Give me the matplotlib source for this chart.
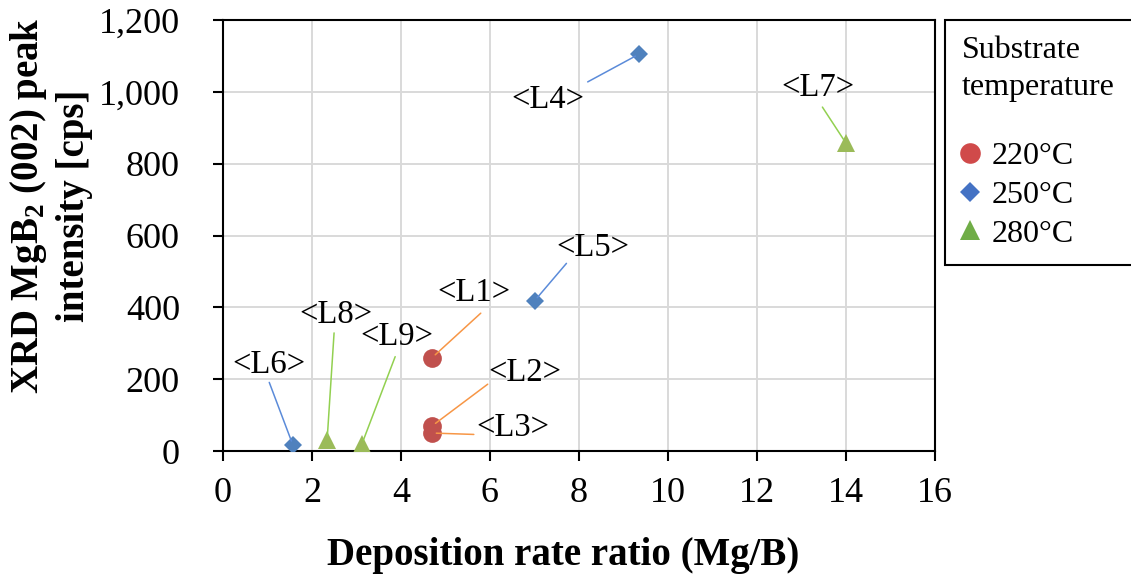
import matplotlib
matplotlib.use('Agg')
import matplotlib.pyplot as plt
from matplotlib.lines import Line2D
from matplotlib.patches import Rectangle
from matplotlib.ticker import FuncFormatter

plt.rcParams['font.family'] = ['Liberation Serif', 'DejaVu Serif']
plt.rcParams['mathtext.fontset'] = 'custom'
plt.rcParams['mathtext.rm'] = 'Liberation Serif'
plt.rcParams['mathtext.bf'] = 'Liberation Serif:bold'

# ===== data: deposition rate ratio (Mg/B) vs XRD MgB2 (002) peak intensity [cps] =====
temps = ['220°C', '250°C', '280°C']

labels_220 = ['L1', 'L2', 'L3']
ratio_220 = [4.7, 4.7, 4.7]
peak_220 = [260, 70, 50]

labels_250 = ['L4', 'L5', 'L6']
ratio_250 = [9.35, 7.0, 1.57]
peak_250 = [1105, 418, 17]

labels_280 = ['L7', 'L8', 'L9']
ratio_280 = [14.0, 2.34, 3.12]
peak_280 = [857, 31, 19]

# label placement: (text offset, leader start offset) in points from the point
label_pos = {
    'L1': ((30, 47), (35, 32)),
    'L2': ((67, 38), (40, 30)),
    'L3': ((58, 4), (30, -1)),
    'L4': ((-66, -33), (-37, -20)),
    'L5': ((42, 38), (23, 27)),
    'L6': ((-17, 58), (-17, 45)),
    'L7': ((-20, 40), (-17, 26)),
    'L8': ((6, 90), (5, 77)),
    'L9': ((25, 77), (24, 63)),
}

series = [
    (labels_220, ratio_220, peak_220, 'o', 13.5, '#C0504D', '#F79646', '#D04A4A'),
    (labels_250, ratio_250, peak_250, 'D', 9.4, '#4F81BD', '#5B8BD9', '#4472C4'),
    (labels_280, ratio_280, peak_280, '^', 13.5, '#9BBB59', '#92D050', '#70AD47'),
]

W, H = 1131, 584
fig = plt.figure(figsize=(W / 100, H / 100), dpi=100)
ax = fig.add_axes([223 / W, 1 - 451 / H, (935 - 223) / W, (451 - 20) / H])

legend_handles = []
for labs, xs, ys, mk, ms, col, line_col, leg_col in series:
    ax.plot(xs, ys, linestyle='none', marker=mk, markersize=ms,
            color=col, markeredgewidth=0, zorder=3)
    for lab, x, y in zip(labs, xs, ys):
        txt_off, line_off = label_pos[lab]
        ax.annotate(f'<{lab}>', xy=(x, y), xytext=txt_off,
                    textcoords='offset points', ha='center', va='center',
                    fontsize=23.5, zorder=5)
        ax.annotate('', xy=(x, y), xytext=line_off, textcoords='offset points',
                    arrowprops=dict(arrowstyle='-', color=line_col, lw=1.1,
                                    shrinkA=0, shrinkB=3), zorder=4)
    legend_handles.append(
        Line2D([0], [0], marker=mk, linestyle='None', markersize=ms * 1.1,
               markerfacecolor=leg_col, markeredgewidth=0))

ax.set_xlim(0, 16)
ax.set_ylim(0, 1200)
ax.set_xticks(range(0, 17, 2))
ax.set_yticks(range(0, 1201, 200))
ax.yaxis.set_major_formatter(FuncFormatter(lambda v, p: f'{v:,.0f}'))
ax.tick_params(axis='both', direction='out', length=7, width=1.5,
               labelsize=26, color='black')
ax.tick_params(axis='y', pad=24)
ax.tick_params(axis='x', pad=12)
ax.grid(True, color='#d9d9d9', linewidth=1.4)
ax.set_axisbelow(True)
for sp in ax.spines.values():
    sp.set_linewidth(1.5)
    sp.set_color('black')

fig.text(563 / W, 1 - 555 / H, 'Deposition rate ratio (Mg/B)',
         ha='center', va='center', fontsize=28, fontweight='bold')
fig.text(51 / W, 1 - 206 / H,
         'XRD MgB$_\\mathbf{2}$ (002) peak\nintensity [cps]',
         ha='center', va='center', rotation=90, multialignment='center',
         fontsize=28, fontweight='bold', linespacing=1.25)

# legend box: frame, two-line title, then the three entries
fig.patches.append(Rectangle((945 / W, 1 - 265 / H), (1145 - 945) / W, 245 / H,
                             transform=fig.transFigure, facecolor='white',
                             edgecolor='black', linewidth=1.5, zorder=1))
fig.text(962 / W, 1 - 50 / H, 'Substrate', ha='left', va='center', fontsize=23)
fig.text(962 / W, 1 - 88 / H, 'temperature', ha='left', va='center', fontsize=23)
leg = fig.legend(legend_handles, temps, loc='center left',
                 bbox_to_anchor=(960 / W, 1 - 195 / H), borderaxespad=0,
                 borderpad=0, fontsize=23, frameon=False,
                 handlelength=0.6, handletextpad=0.4, labelspacing=0.3)

fig.savefig('out.png', dpi=100)
